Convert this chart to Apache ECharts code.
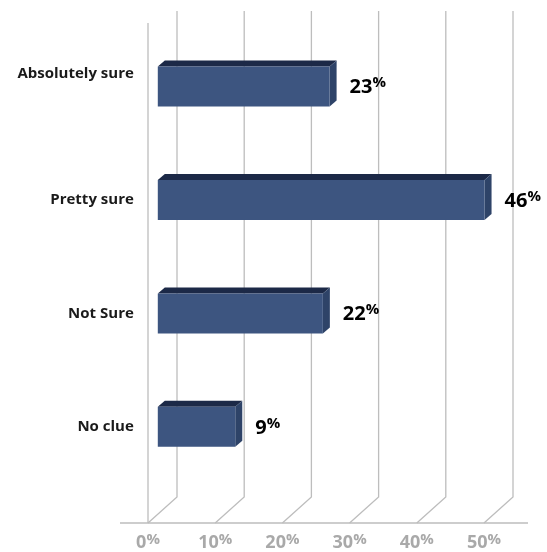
<!DOCTYPE html>
<html>
<head>
<meta charset="utf-8">
<script src="https://cdn.jsdelivr.net/npm/echarts@6/dist/echarts.min.js"></script>
<style>
  html, body { margin: 0; padding: 0; background: #fff; }
  #chart { width: 547px; height: 552px; }
</style>
</head>
<body>
<div id="chart"></div>
<script>
// ---- data ----
const categories = ['Absolutely sure', 'Pretty sure', 'Not Sure', 'No clue'];
const values = [23, 46, 22, 9];
const xTicks = [0, 10, 20, 30, 40, 50];

// ---- styling ----
const FONT = '"Open Sans", "Noto Sans", sans-serif';
const GRID_COLOR = '#BDBDBD';
const FRONT = '#3D5580';
const TOP = '#1C2947';
const SIDE = '#2E4368';
const DEPTH_X = 29, DEPTH_Y = 26;      // wall depth
const BAR_DX = 7, BAR_DY = 6;          // bar 3D depth
const BAR_AXIS_MIN = -2.5;

const chart = echarts.init(document.getElementById('chart'), null, { renderer: 'canvas' });

function frameItem(params, api) {
  const v = api.value(0);
  const pb = api.coord([v, 0]);
  const pt = api.coord([v, 1]);
  const children = [];
  const ls = { stroke: GRID_COLOR, lineWidth: 1.3, fill: null };
  children.push({
    type: 'polyline',
    shape: { points: [[pb[0], pb[1]], [pb[0] + DEPTH_X, pb[1] - DEPTH_Y], [pb[0] + DEPTH_X, pt[1] - 12]] },
    style: ls, silent: true
  });
  if (params.dataIndex === 0) {
    children.push({ type: 'line', shape: { x1: pb[0], y1: pt[1], x2: pb[0], y2: pb[1] }, style: ls, silent: true });
    const last = api.coord([xTicks[xTicks.length - 1], 0]);
    children.push({ type: 'line', shape: { x1: pb[0] - 28, y1: pb[1], x2: last[0] + 44, y2: pb[1] }, style: ls, silent: true });
  }
  return { type: 'group', children };
}

function barItem(params, api) {
  const v = api.value(0);
  const c = api.value(1);
  const s = api.coord([BAR_AXIS_MIN, c]);
  const e = api.coord([v, c]);
  const h = api.size([0, 1])[1] * 0.353;
  const x0 = s[0], x1 = e[0];
  const yt = e[1] - h / 2, yb = e[1] + h / 2;
  return {
    type: 'group',
    children: [
      { type: 'polygon', shape: { points: [[x0, yt], [x1, yt], [x1 + BAR_DX, yt - BAR_DY], [x0 + BAR_DX, yt - BAR_DY]] }, style: { fill: TOP } },
      { type: 'polygon', shape: { points: [[x1, yt], [x1 + BAR_DX, yt - BAR_DY], [x1 + BAR_DX, yb - BAR_DY], [x1, yb]] }, style: { fill: SIDE } },
      { type: 'rect', shape: { x: x0, y: yt, width: x1 - x0, height: h }, style: { fill: FRONT } },
      {
        type: 'text',
        style: {
          x: x1 + BAR_DX + 13, y: e[1] + 1,
          text: '{n|' + v + '}{p|%}',
          align: 'left', verticalAlign: 'middle',
          rich: {
            n: { fontSize: 20, fontWeight: 'bold', fontFamily: FONT, fill: '#000', lineHeight: 24 },
            p: { fontSize: 15, fontWeight: 'bold', fontFamily: FONT, fill: '#000', verticalAlign: 'top', lineHeight: 17 }
          }
        }
      }
    ]
  };
}

const option = {
  backgroundColor: '#fff',
  animation: false,
  grid: [
    { left: 148, right: 63, top: 23, bottom: 29 },
    { left: 157.8, right: 35.5, top: 29.9, bottom: 68.5 }
  ],
  xAxis: [
    {
      gridIndex: 0, type: 'value', min: 0, max: 50, interval: 10,
      axisLine: { show: false }, axisTick: { show: false }, splitLine: { show: false },
      axisLabel: {
        margin: 9,
        formatter: function (v) { return '{n|' + v + '}{p|%}'; },
        rich: {
          n: { fontSize: 18, fontWeight: 'bold', fontFamily: FONT, color: '#A9A9A9', lineHeight: 21 },
          p: { fontSize: 15, fontWeight: 'bold', fontFamily: FONT, color: '#A9A9A9', verticalAlign: 'top', lineHeight: 17 }
        }
      }
    },
    { gridIndex: 1, type: 'value', min: BAR_AXIS_MIN, max: 50, show: false }
  ],
  yAxis: [
    { gridIndex: 0, type: 'value', min: 0, max: 1, show: false },
    {
      gridIndex: 1, type: 'category', data: categories, inverse: true,
      axisLine: { show: false }, axisTick: { show: false }, splitLine: { show: false },
      axisLabel: {
        margin: 24, color: '#1A1A1A',
        formatter: function (v, i) { return (i === 0 ? '{up|' : '{c|') + v + '}'; },
        rich: {
          c: { fontSize: 15, fontWeight: 'bold', fontFamily: FONT, color: '#1A1A1A' },
          up: { fontSize: 15, fontWeight: 'bold', fontFamily: FONT, color: '#1A1A1A', padding: [0, 0, 26, 0] }
        }
      }
    }
  ],
  series: [
    {
      type: 'custom', name: 'frame', xAxisIndex: 0, yAxisIndex: 0, silent: true, z: 1,
      data: xTicks.map(v => [v, 0]), encode: { x: 0, y: 1 },
      renderItem: frameItem
    },
    {
      type: 'custom', name: 'bars', xAxisIndex: 1, yAxisIndex: 1, z: 5,
      data: values.map((v, i) => [v, i]), encode: { x: 0, y: 1 },
      renderItem: barItem, clip: false
    }
  ]
};
chart.setOption(option);
</script>
</body>
</html>
